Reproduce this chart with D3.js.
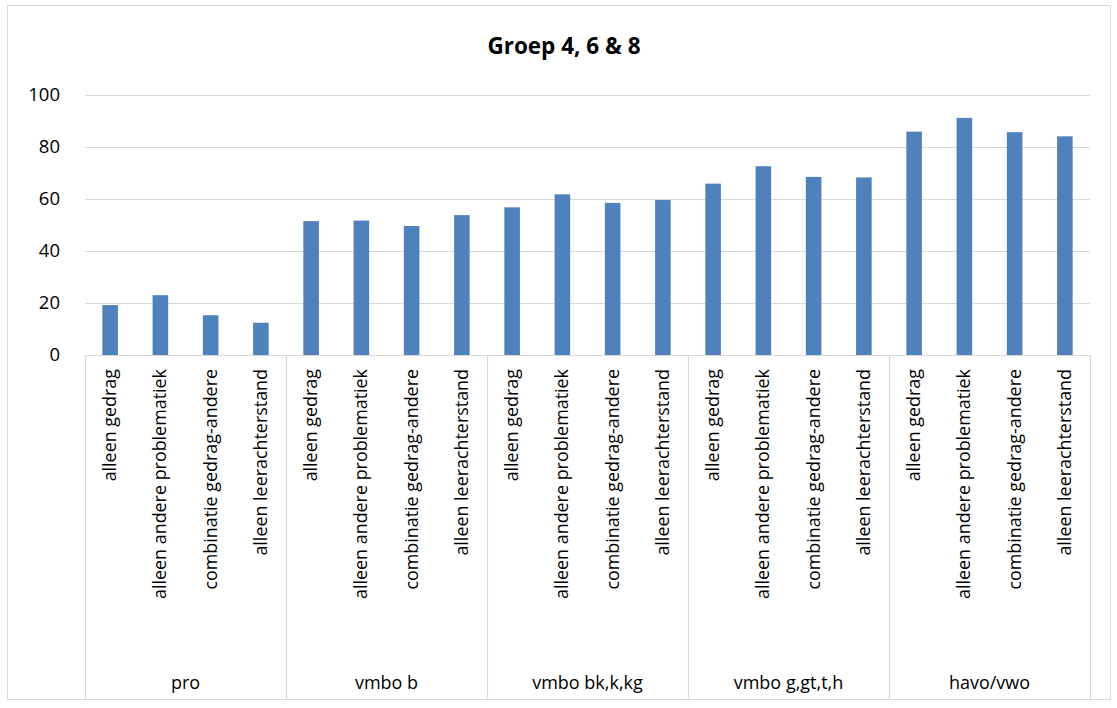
<!DOCTYPE html>
<html>
<head>
<meta charset="utf-8">
<script src="https://cdn.jsdelivr.net/npm/d3@7"></script>
<style>
  body { margin: 0; background: #fff; }
  svg { font-family: "Open Sans", "Noto Sans", sans-serif; }
</style>
</head>
<body>
<svg width="1117" height="708"></svg>
<script>
// schooltypes (outer axis level)
var groups = ["pro", "vmbo b", "vmbo bk,k,kg", "vmbo g,gt,t,h", "havo/vwo"];
// problem categories (inner axis level)
var subcats = ["alleen gedrag", "alleen andere problematiek", "combinatie gedrag-andere", "alleen leerachterstand"];
// values per group, same order as subcats
var proVals = [19.2, 23.0, 15.3, 12.4];
var vmboBVals = [51.5, 51.7, 49.6, 53.8];
var vmboBkVals = [56.8, 61.8, 58.5, 59.6];
var vmboGVals = [65.9, 72.6, 68.5, 68.3];
var havoVals = [85.9, 91.2, 85.7, 84.1];
var yTicks = [0, 20, 40, 60, 80, 100];

var allVals = [proVals, vmboBVals, vmboBkVals, vmboGVals, havoVals];

var data = [];
groups.forEach(function(g, gi) {
    subcats.forEach(function(c, ci) {
        data.push({ key: g + "|" + c, group: g, cat: c, value: allVals[gi][ci] });
    });
});

var svg = d3.select("svg");
var plotLeft = 85, plotRight = 1090, plotTop = 95, plotBottom = 355;

// outer chart border
svg.append("rect")
    .attr("x", 7.5).attr("y", 5.5)
    .attr("width", 1103).attr("height", 694)
    .attr("fill", "none").attr("stroke", "#d9d9d9");

var x = d3.scaleBand()
    .domain(data.map(function(d) { return d.key; }))
    .range([plotLeft, plotRight])
    .paddingInner(0.69)
    .paddingOuter(0.345);

var xg = d3.scaleBand().domain(groups).range([plotLeft, plotRight]);

var y = d3.scaleLinear().domain([0, 100]).range([plotBottom, plotTop]);

// gridlines
svg.append("g").selectAll("line")
    .data(yTicks)
    .enter().append("line")
    .attr("x1", plotLeft).attr("x2", plotRight)
    .attr("y1", function(d) { return y(d) + 0.5; })
    .attr("y2", function(d) { return y(d) + 0.5; })
    .attr("stroke", "#d9d9d9")
    .attr("stroke-width", 1.2);

// y axis labels
var yAxis = d3.axisLeft(y).tickValues(yTicks).tickSize(0).tickPadding(0);
svg.append("g")
    .attr("transform", "translate(60,0)")
    .call(yAxis)
    .call(function(g) { g.select(".domain").remove(); })
    .selectAll("text")
    .attr("font-size", 18.5)
    .attr("font-family", "Open Sans")
    .attr("fill", "#000");

// bars
svg.append("g").selectAll("rect")
    .data(data)
    .enter().append("rect")
    .attr("x", function(d) { return x(d.key); })
    .attr("width", x.bandwidth())
    .attr("y", function(d) { return y(d.value); })
    .attr("height", function(d) { return y(0) - y(d.value); })
    .attr("fill", "#4f81bd");

// group divider lines
var bounds = groups.map(function(g) { return xg(g); }).concat([plotRight]);
svg.append("g").selectAll("line")
    .data(bounds)
    .enter().append("line")
    .attr("x1", function(d) { return Math.round(d) + 0.5; })
    .attr("x2", function(d) { return Math.round(d) + 0.5; })
    .attr("y1", plotBottom).attr("y2", 699)
    .attr("stroke", "#d9d9d9")
    .attr("stroke-width", 1.2);

// category labels, rotated
svg.append("g").selectAll("text")
    .data(data)
    .enter().append("text")
    .attr("transform", function(d) {
        return "translate(" + (x(d.key) + x.bandwidth() / 2 + 6) + ",369) rotate(-90)";
    })
    .attr("text-anchor", "end")
    .attr("font-size", 17.9)
    .attr("fill", "#000")
    .text(function(d) { return d.cat; });

// group labels
svg.append("g").selectAll("text")
    .data(groups)
    .enter().append("text")
    .attr("x", function(d) { return xg(d) + xg.bandwidth() / 2; })
    .attr("y", 689)
    .attr("text-anchor", "middle")
    .attr("font-size", 18)
    .attr("fill", "#000")
    .text(function(d) { return d; });

// title
svg.append("text")
    .attr("x", 564).attr("y", 54)
    .attr("text-anchor", "middle")
    .attr("font-size", 22.5)
    .attr("font-weight", "bold")
    .attr("fill", "#000")
    .text("Groep 4, 6 & 8");
</script>
</body>
</html>
